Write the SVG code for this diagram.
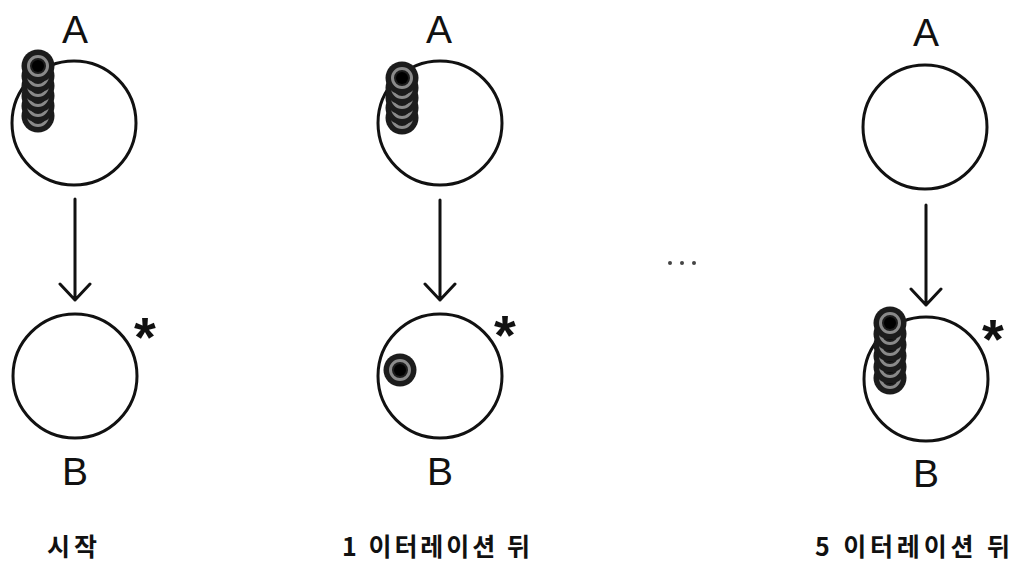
<svg xmlns="http://www.w3.org/2000/svg" xmlns:xlink="http://www.w3.org/1999/xlink" width="1012" height="567" viewBox="0 0 1012 567">
<style>
.node{fill:#fff;stroke:#111;stroke-width:3}
.lbl{font-family:"Liberation Sans",Arial,sans-serif;font-size:39px;fill:#111;text-anchor:middle}
.ast{font-family:"Liberation Sans",Arial,sans-serif;font-size:56px;font-weight:bold;fill:#111;text-anchor:middle}
.cap{font-family:"Noto Sans CJK KR","Noto Sans",sans-serif;font-size:25px;font-weight:bold;fill:#111}
.edge{fill:none;stroke:#111;stroke-width:3;stroke-linecap:round;stroke-linejoin:round}
</style>
<defs>
<g id="tok">
<circle r="16.5" fill="#1c1c1c"/>
<circle r="9.5" fill="none" stroke="#8a8a8a" stroke-width="3"/>
<circle r="6" fill="#000"/>
</g>
</defs>
<rect width="1012" height="567" fill="#fff"/>
<g id="connectors">
<path class="edge" d="M75 199 V300 M60 284 L75 300 L90 284"/>
<path class="edge" d="M440 200 V300 M425 284 L440 300 L455 284"/>
<path class="edge" d="M926 205 V305 M911 289 L926 305 L941 289"/>
</g>
<g id="A1">
<circle class="node" cx="74" cy="123" r="62"/>
<text class="lbl" x="75" y="43">A</text>
<use xlink:href="#tok" x="38" y="116"/>
<use xlink:href="#tok" x="38" y="106"/>
<use xlink:href="#tok" x="38" y="96"/>
<use xlink:href="#tok" x="38" y="86"/>
<use xlink:href="#tok" x="38" y="76"/>
<use xlink:href="#tok" x="38" y="66"/>
</g>
<g id="B1">
<circle class="node" cx="75" cy="376" r="62"/>
<text class="lbl" x="75" y="485">B</text>
<text class="ast" x="145" y="356">*</text>
</g>
<g id="A2">
<circle class="node" cx="440" cy="123" r="62"/>
<text class="lbl" x="439" y="43">A</text>
<use xlink:href="#tok" x="402" y="118"/>
<use xlink:href="#tok" x="402" y="108"/>
<use xlink:href="#tok" x="402" y="98"/>
<use xlink:href="#tok" x="402" y="88"/>
<use xlink:href="#tok" x="402" y="78"/>
</g>
<g id="B2">
<circle class="node" cx="440" cy="376" r="62"/>
<text class="lbl" x="440" y="485">B</text>
<text class="ast" x="505" y="354">*</text>
<use xlink:href="#tok" x="400" y="370"/>
</g>
<g id="dots" fill="#444">
<circle cx="670" cy="263" r="2"/>
<circle cx="682" cy="263" r="2"/>
<circle cx="694" cy="263" r="2"/>
</g>
<g id="A3">
<circle class="node" cx="925" cy="127" r="62"/>
<text class="lbl" x="926" y="46">A</text>
</g>
<g id="B3">
<circle class="node" cx="926" cy="379" r="62"/>
<text class="lbl" x="926" y="487">B</text>
<text class="ast" x="993" y="358">*</text>
<use xlink:href="#tok" x="890" y="378"/>
<use xlink:href="#tok" x="890" y="367"/>
<use xlink:href="#tok" x="890" y="356"/>
<use xlink:href="#tok" x="890" y="345"/>
<use xlink:href="#tok" x="890" y="334"/>
<use xlink:href="#tok" x="890" y="323"/>
</g>
<g id="captions">
<text class="cap" x="47" y="556" textLength="50" lengthAdjust="spacing">시작</text>
<text class="cap" x="342" y="556" textLength="188" lengthAdjust="spacing">1 이터레이션 뒤</text>
<text class="cap" x="815" y="556" textLength="195" lengthAdjust="spacing">5 이터레이션 뒤</text>
</g>
</svg>
